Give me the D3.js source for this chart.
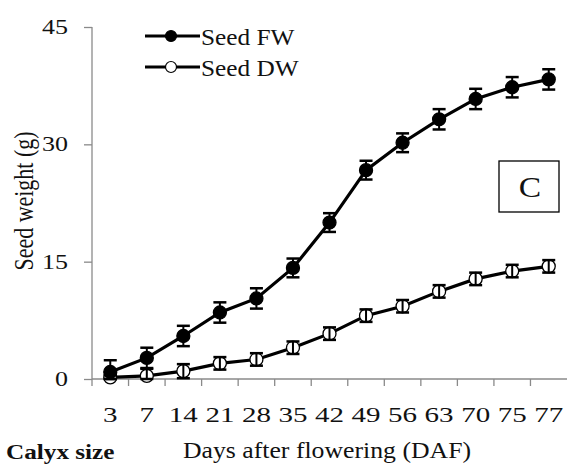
<!DOCTYPE html>
<html>
<head>
<meta charset="utf-8">
<script src="https://cdn.jsdelivr.net/npm/d3@7"></script>
<style>
  body { margin: 0; background: #fff; overflow: hidden; }
  svg text { font-family: "Liberation Serif", "Times New Roman", serif; }
</style>
</head>
<body>
<div id="chart"></div>
<script>
// Daten
const days = ["3", "7", "14", "21", "28", "35", "42", "49", "56", "63", "70", "75", "77"];
const seedFW = [0.9, 2.7, 5.5, 8.5, 10.3, 14.2, 20.0, 26.7, 30.2, 33.2, 35.8, 37.3, 38.3];
const seedFWErr = [1.5, 1.3, 1.3, 1.3, 1.3, 1.2, 1.2, 1.2, 1.2, 1.3, 1.3, 1.3, 1.3];
const seedDW = [0.2, 0.4, 1.0, 2.0, 2.5, 4.0, 5.8, 8.1, 9.3, 11.2, 12.8, 13.8, 14.4];
const seedDWErr = [0.3, 0.9, 0.9, 0.8, 0.8, 0.8, 0.8, 0.8, 0.8, 0.8, 0.8, 0.8, 0.8];
const yTicks = [0, 15, 30, 45];

const width = 569, height = 464;
const margin = {left: 92, right: 2, top: 27, bottom: 85};

const svg = d3.select("#chart").append("svg")
    .attr("width", width)
    .attr("height", height);

const x = d3.scaleBand()
    .domain(days)
    .range([margin.left, width - margin.right]);

const y = d3.scaleLinear()
    .domain([0, 45])
    .range([height - margin.bottom, margin.top]);

const axisColor = "#8a8a8a";

// Text etwas in die Breite gezogen, wie im Original (Bild war gestreckt)
function label(px, py, str, size, sx, opts = {}) {
    return svg.append("text")
        .attr("transform", `translate(${px},${py}) scale(${sx},1)`)
        .attr("text-anchor", opts.anchor || "start")
        .attr("font-size", size)
        .attr("font-weight", opts.bold ? "bold" : "normal")
        .attr("fill", "#111")
        .text(str);
}

// Y-Achse
const yAxis = svg.append("g")
    .attr("transform", `translate(${margin.left},0)`)
    .call(d3.axisLeft(y).tickValues(yTicks).tickSize(8).tickSizeOuter(0));
yAxis.select(".domain").attr("stroke", axisColor).attr("stroke-width", 1.3)
    .attr("d", `M0,${y(45)}V${y(0) + 7}`);
yAxis.selectAll(".tick line").attr("stroke", axisColor).attr("stroke-width", 1.3);
yAxis.selectAll(".tick text")
    .attr("font-size", 20)
    .attr("font-family", "Liberation Serif")
    .attr("fill", "#111")
    .attr("x", -24 / 1.3)
    .attr("transform", "scale(1.3,1)");

// X-Achse, Ticks zwischen den Kategorien
const xAxisG = svg.append("g")
    .attr("transform", `translate(0,${y(0)})`);
xAxisG.append("line")
    .attr("x1", margin.left).attr("x2", width - margin.right)
    .attr("stroke", axisColor).attr("stroke-width", 1.3);
days.forEach((d, i) => {
    if (i > 0) {
        xAxisG.append("line")
            .attr("x1", x(d)).attr("x2", x(d))
            .attr("y1", 0).attr("y2", 7)
            .attr("stroke", axisColor).attr("stroke-width", 1.3);
    }
    label(x(d) + x.bandwidth() / 2, 422, d, 21.5, 1.35, {anchor: "middle"});
});

// Achsentitel
svg.append("text")
    .attr("transform", `translate(33,${201}) rotate(-90) scale(1,1.2)`)
    .attr("text-anchor", "middle")
    .attr("font-size", 22)
    .attr("fill", "#111")
    .text("Seed weight (g)");

label(327, 458, "Days after flowering (DAF)", 23, 1.12, {anchor: "middle"});
label(6, 459, "Calyx size", 21, 1.2, {bold: true});

const cx = d => x(d) + x.bandwidth() / 2;

function drawSeries(values, errs, filled) {
    const line = d3.line()
        .x((v, i) => cx(days[i]))
        .y(v => y(v));
    svg.append("path")
        .datum(values)
        .attr("d", line)
        .attr("fill", "none")
        .attr("stroke", "#000")
        .attr("stroke-width", 3.2);

    values.forEach((v, i) => {
        const px = cx(days[i]);
        const top = y(v + errs[i]), bot = y(Math.max(0, v - errs[i]));
        svg.append("circle")
            .attr("cx", px).attr("cy", y(v))
            .attr("r", 6.5)
            .attr("fill", filled ? "#000" : "#fff")
            .attr("stroke", "#000")
            .attr("stroke-width", 1.3);
        // Fehlerbalken
        svg.append("line")
            .attr("x1", px).attr("x2", px)
            .attr("y1", top).attr("y2", bot)
            .attr("stroke", "#000").attr("stroke-width", 2);
        [top, bot].forEach(yy => {
            svg.append("line")
                .attr("x1", px - 6.5).attr("x2", px + 6.5)
                .attr("y1", yy).attr("y2", yy)
                .attr("stroke", "#000").attr("stroke-width", 2.5);
        });
    });
}

drawSeries(seedDW, seedDWErr, false);
drawSeries(seedFW, seedFWErr, true);

// Legende
const legend = [
    {label: "Seed FW", filled: true, y: 36},
    {label: "Seed DW", filled: false, y: 67}
];
legend.forEach(l => {
    svg.append("line")
        .attr("x1", 145).attr("x2", 200)
        .attr("y1", l.y).attr("y2", l.y)
        .attr("stroke", "#000").attr("stroke-width", 3.2);
    svg.append("circle")
        .attr("cx", 171).attr("cy", l.y)
        .attr("r", 5.5)
        .attr("fill", l.filled ? "#000" : "#fff")
        .attr("stroke", "#000").attr("stroke-width", 1.2);
    label(201, l.y + 9, l.label, 23, 1.1);
});

// Kennbuchstabe
svg.append("rect")
    .attr("x", 499).attr("y", 161)
    .attr("width", 60).attr("height", 51)
    .attr("fill", "#fff")
    .attr("stroke", "#000").attr("stroke-width", 1.3);
label(530, 197, "C", 30, 1.12, {anchor: "middle"});
</script>
</body>
</html>
